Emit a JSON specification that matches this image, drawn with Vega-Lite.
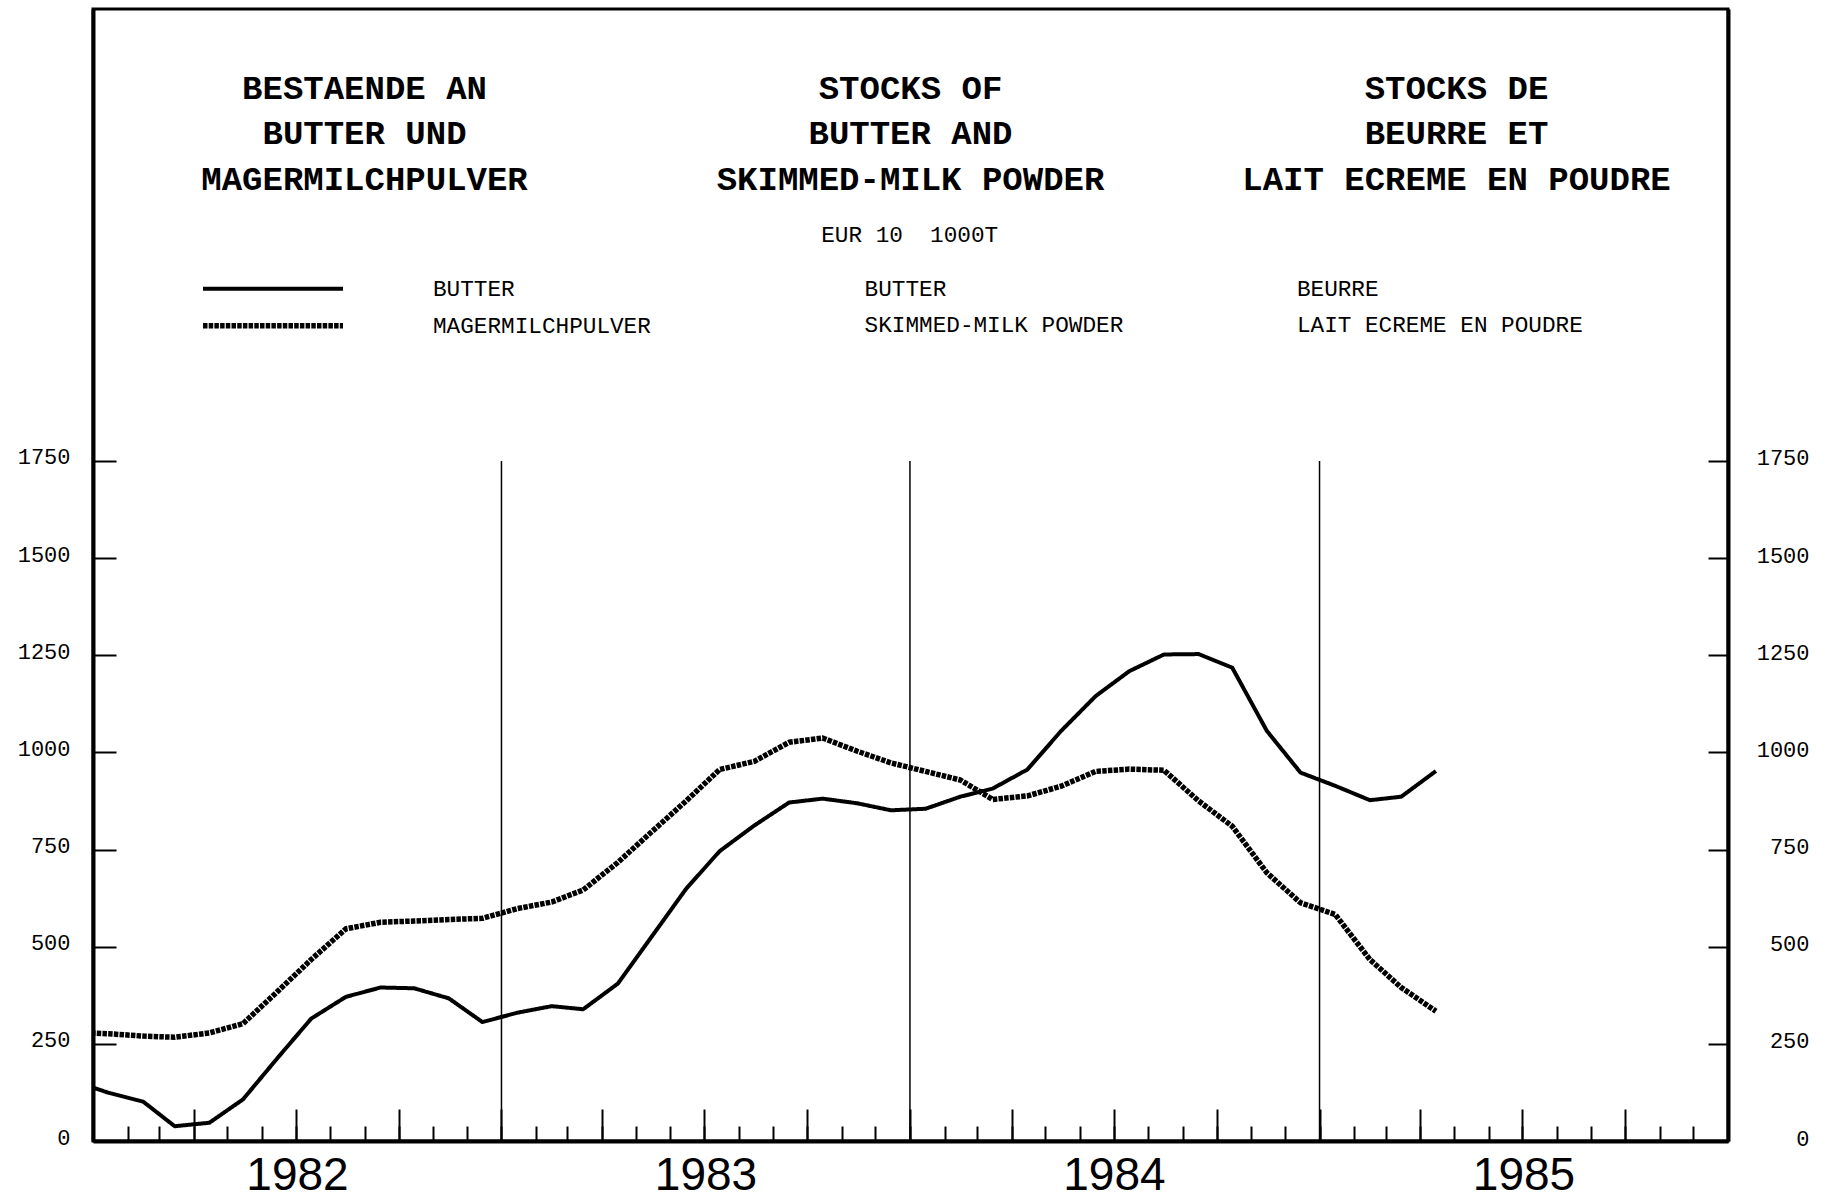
{
  "$schema": "https://vega.github.io/schema/vega-lite/v6.json",
  "width": 1635,
  "height": 1132,
  "autosize": {"type": "none"},
  "padding": {"left": 93, "top": 9, "right": 104, "bottom": 59},
  "background": "white",
  "config": {
    "view": {"stroke": "black", "strokeWidth": 3},
    "font": "Liberation Mono",
    "axis": {"domainColor": "black", "tickColor": "black", "labelColor": "black", "grid": false, "title": null}
  },
  "datasets": {
    "stocks": [
      {"month": "1981-12-15", "series": "BUTTER", "value": 154},
      {"month": "1982-01-15", "series": "BUTTER", "value": 124},
      {"month": "1982-02-15", "series": "BUTTER", "value": 101},
      {"month": "1982-03-15", "series": "BUTTER", "value": 38},
      {"month": "1982-04-15", "series": "BUTTER", "value": 47},
      {"month": "1982-05-15", "series": "BUTTER", "value": 107},
      {"month": "1982-06-15", "series": "BUTTER", "value": 214},
      {"month": "1982-07-15", "series": "BUTTER", "value": 315},
      {"month": "1982-08-15", "series": "BUTTER", "value": 371},
      {"month": "1982-09-15", "series": "BUTTER", "value": 395},
      {"month": "1982-10-15", "series": "BUTTER", "value": 393},
      {"month": "1982-11-15", "series": "BUTTER", "value": 367},
      {"month": "1982-12-15", "series": "BUTTER", "value": 306},
      {"month": "1983-01-15", "series": "BUTTER", "value": 330},
      {"month": "1983-02-15", "series": "BUTTER", "value": 347},
      {"month": "1983-03-15", "series": "BUTTER", "value": 339},
      {"month": "1983-04-15", "series": "BUTTER", "value": 405},
      {"month": "1983-05-15", "series": "BUTTER", "value": 525},
      {"month": "1983-06-15", "series": "BUTTER", "value": 649},
      {"month": "1983-07-15", "series": "BUTTER", "value": 746},
      {"month": "1983-08-15", "series": "BUTTER", "value": 812},
      {"month": "1983-09-15", "series": "BUTTER", "value": 871},
      {"month": "1983-10-15", "series": "BUTTER", "value": 881},
      {"month": "1983-11-15", "series": "BUTTER", "value": 869},
      {"month": "1983-12-15", "series": "BUTTER", "value": 851},
      {"month": "1984-01-15", "series": "BUTTER", "value": 855},
      {"month": "1984-02-15", "series": "BUTTER", "value": 886},
      {"month": "1984-03-15", "series": "BUTTER", "value": 907},
      {"month": "1984-04-15", "series": "BUTTER", "value": 956},
      {"month": "1984-05-15", "series": "BUTTER", "value": 1055},
      {"month": "1984-06-15", "series": "BUTTER", "value": 1145},
      {"month": "1984-07-15", "series": "BUTTER", "value": 1209},
      {"month": "1984-08-15", "series": "BUTTER", "value": 1252},
      {"month": "1984-09-15", "series": "BUTTER", "value": 1253},
      {"month": "1984-10-15", "series": "BUTTER", "value": 1218},
      {"month": "1984-11-15", "series": "BUTTER", "value": 1055},
      {"month": "1984-12-15", "series": "BUTTER", "value": 948},
      {"month": "1985-01-15", "series": "BUTTER", "value": 914},
      {"month": "1985-02-15", "series": "BUTTER", "value": 877},
      {"month": "1985-03-15", "series": "BUTTER", "value": 886},
      {"month": "1985-04-15", "series": "BUTTER", "value": 952},
      {"month": "1981-12-15", "series": "MAGERMILCHPULVER", "value": 280},
      {"month": "1982-01-15", "series": "MAGERMILCHPULVER", "value": 276},
      {"month": "1982-02-15", "series": "MAGERMILCHPULVER", "value": 270},
      {"month": "1982-03-15", "series": "MAGERMILCHPULVER", "value": 267},
      {"month": "1982-04-15", "series": "MAGERMILCHPULVER", "value": 278},
      {"month": "1982-05-15", "series": "MAGERMILCHPULVER", "value": 302},
      {"month": "1982-06-15", "series": "MAGERMILCHPULVER", "value": 385},
      {"month": "1982-07-15", "series": "MAGERMILCHPULVER", "value": 467},
      {"month": "1982-08-15", "series": "MAGERMILCHPULVER", "value": 546},
      {"month": "1982-09-15", "series": "MAGERMILCHPULVER", "value": 563},
      {"month": "1982-10-15", "series": "MAGERMILCHPULVER", "value": 566},
      {"month": "1982-11-15", "series": "MAGERMILCHPULVER", "value": 570},
      {"month": "1982-12-15", "series": "MAGERMILCHPULVER", "value": 573},
      {"month": "1983-01-15", "series": "MAGERMILCHPULVER", "value": 598},
      {"month": "1983-02-15", "series": "MAGERMILCHPULVER", "value": 615},
      {"month": "1983-03-15", "series": "MAGERMILCHPULVER", "value": 646},
      {"month": "1983-04-15", "series": "MAGERMILCHPULVER", "value": 717},
      {"month": "1983-05-15", "series": "MAGERMILCHPULVER", "value": 795},
      {"month": "1983-06-15", "series": "MAGERMILCHPULVER", "value": 875},
      {"month": "1983-07-15", "series": "MAGERMILCHPULVER", "value": 956},
      {"month": "1983-08-15", "series": "MAGERMILCHPULVER", "value": 977},
      {"month": "1983-09-15", "series": "MAGERMILCHPULVER", "value": 1026},
      {"month": "1983-10-15", "series": "MAGERMILCHPULVER", "value": 1037},
      {"month": "1983-11-15", "series": "MAGERMILCHPULVER", "value": 1003},
      {"month": "1983-12-15", "series": "MAGERMILCHPULVER", "value": 973},
      {"month": "1984-01-15", "series": "MAGERMILCHPULVER", "value": 951},
      {"month": "1984-02-15", "series": "MAGERMILCHPULVER", "value": 929},
      {"month": "1984-03-15", "series": "MAGERMILCHPULVER", "value": 879},
      {"month": "1984-04-15", "series": "MAGERMILCHPULVER", "value": 888},
      {"month": "1984-05-15", "series": "MAGERMILCHPULVER", "value": 913},
      {"month": "1984-06-15", "series": "MAGERMILCHPULVER", "value": 951},
      {"month": "1984-07-15", "series": "MAGERMILCHPULVER", "value": 957},
      {"month": "1984-08-15", "series": "MAGERMILCHPULVER", "value": 954},
      {"month": "1984-09-15", "series": "MAGERMILCHPULVER", "value": 875},
      {"month": "1984-10-15", "series": "MAGERMILCHPULVER", "value": 810},
      {"month": "1984-11-15", "series": "MAGERMILCHPULVER", "value": 690},
      {"month": "1984-12-15", "series": "MAGERMILCHPULVER", "value": 613},
      {"month": "1985-01-15", "series": "MAGERMILCHPULVER", "value": 583},
      {"month": "1985-02-15", "series": "MAGERMILCHPULVER", "value": 467},
      {"month": "1985-03-15", "series": "MAGERMILCHPULVER", "value": 395},
      {"month": "1985-04-15", "series": "MAGERMILCHPULVER", "value": 334}
    ],
    "boundaries": [
      {"year_start": "1983-01-01"},
      {"year_start": "1984-01-01"},
      {"year_start": "1985-01-01"}
    ],
    "titles": [
      {"lang": "DE", "line": 1, "text": "BESTAENDE AN"},
      {"lang": "DE", "line": 2, "text": "BUTTER UND"},
      {"lang": "DE", "line": 3, "text": "MAGERMILCHPULVER"},
      {"lang": "EN", "line": 1, "text": "STOCKS OF"},
      {"lang": "EN", "line": 2, "text": "BUTTER AND"},
      {"lang": "EN", "line": 3, "text": "SKIMMED-MILK POWDER"},
      {"lang": "FR", "line": 1, "text": "STOCKS DE"},
      {"lang": "FR", "line": 2, "text": "BEURRE ET"},
      {"lang": "FR", "line": 3, "text": "LAIT ECREME EN POUDRE"}
    ],
    "units": [
      {"slot": "unit", "text": "EUR 10\u00a0\u00a01000T"}
    ],
    "legendtext": [
      {"lang": "EN", "row": 1, "series": "BUTTER", "text": "BUTTER"},
      {"lang": "EN", "row": 2, "series": "MAGERMILCHPULVER", "text": "SKIMMED-MILK POWDER"},
      {"lang": "FR", "row": 1, "series": "BUTTER", "text": "BEURRE"},
      {"lang": "FR", "row": 2, "series": "MAGERMILCHPULVER", "text": "LAIT ECREME EN POUDRE"}
    ]
  },
  "resolve": {"scale": {"x": "independent", "y": "independent"}},
  "layer": [
    {
      "data": {"name": "stocks"},
      "mark": {"type": "line", "clip": true, "color": "black", "strokeJoin": "round"},
      "encoding": {
        "x": {
          "field": "month", "type": "temporal",
          "scale": {"type": "utc", "nice": false, "domain": [{"year": 1982, "month": 1, "date": 1, "utc": true}, {"year": 1986, "month": 1, "date": 1, "utc": true}]},
          "axis": {"orient": "bottom", "labels": false, "tickCount": {"interval": "month", "step": 1}, "tickSize": -15, "tickWidth": 2, "domainWidth": 4}
        },
        "y": {
          "field": "value", "type": "quantitative",
          "scale": {"domain": [0, 2913], "nice": false, "zero": true},
          "axis": {"orient": "left", "values": [0, 250, 500, 750, 1000, 1250, 1500, 1750], "format": "d", "tickSize": -23, "tickWidth": 2, "domainWidth": 4, "labelPadding": 46, "labelFont": "Liberation Mono", "labelFontSize": 22, "labelOffset": -4, "labelBaseline": "middle"}
        },
        "strokeDash": {
          "field": "series", "type": "nominal",
          "scale": {"domain": ["BUTTER", "MAGERMILCHPULVER"], "range": [[1, 0], [4.5, 1.2]]},
          "legend": {
            "orient": "none", "legendX": 107, "legendY": 261.5, "title": null, "padding": 0,
            "symbolType": "stroke", "symbolSize": 19600, "symbolStrokeWidth": 5.5, "symbolStrokeColor": "black",
            "clipHeight": 36.3, "rowPadding": 0, "labelOffset": 87, "labelLimit": 0,
            "labelFont": "Liberation Mono", "labelFontSize": 22.7, "labelColor": "black"
          }
        },
        "strokeWidth": {
          "field": "series", "type": "nominal",
          "scale": {"domain": ["BUTTER", "MAGERMILCHPULVER"], "range": [4, 5.5]},
          "legend": null
        }
      }
    },
    {
      "data": {"name": "boundaries"},
      "mark": {"type": "rule", "strokeWidth": 1.5, "color": "black"},
      "encoding": {
        "x": {
          "field": "year_start", "type": "temporal",
          "scale": {"type": "utc", "nice": false, "domain": [{"year": 1982, "month": 1, "date": 1, "utc": true}, {"year": 1986, "month": 1, "date": 1, "utc": true}]},
          "axis": {
            "orient": "bottom", "domain": false, "tickCount": {"interval": "month", "step": 3}, "tickSize": -32, "tickWidth": 2,
            "labelExpr": "utcmonth(datum.value) == 0 && utcyear(datum.value) < 1986 ? utcFormat(datum.value, '%Y') : ''",
            "labelOffset": 204, "labelPadding": 80, "labelBaseline": "alphabetic", "labelAlign": "center",
            "labelFont": "Liberation Sans", "labelFontSize": 46, "labelOverlap": false, "labelFlush": false, "labelBound": false
          }
        },
        "y": {
          "datum": 0, "type": "quantitative",
          "scale": {"domain": [0, 2913], "nice": false, "zero": true},
          "axis": {"orient": "right", "values": [0, 250, 500, 750, 1000, 1250, 1500, 1750], "format": "d", "tickSize": -20, "tickWidth": 2, "domainWidth": 4, "labelPadding": 101, "labelAlign": "right", "labelFont": "Liberation Mono", "labelFontSize": 22, "labelOffset": -3, "labelBaseline": "middle"}
        },
        "y2": {"datum": 1750}
      }
    },
    {
      "data": {"name": "titles"},
      "mark": {"type": "text", "font": "Liberation Mono", "fontSize": 34, "fontWeight": "bold", "align": "center", "baseline": "middle", "color": "black"},
      "encoding": {
        "x": {"field": "lang", "type": "nominal", "scale": {"type": "point", "domain": ["DE", "EN", "FR"], "padding": 0.4973, "align": 0.5}, "axis": null},
        "y": {"field": "line", "type": "quantitative", "scale": {"domain": [-0.7456, 24.079], "nice": false, "zero": false, "reverse": true}, "axis": null},
        "text": {"field": "text"}
      }
    },
    {
      "data": {"name": "units"},
      "mark": {"type": "text", "font": "Liberation Mono", "fontSize": 22.7, "align": "center", "baseline": "middle", "color": "black"},
      "encoding": {
        "x": {"field": "slot", "type": "nominal", "scale": {"type": "point", "domain": ["unit"], "padding": 0.5, "align": 0.4995}, "axis": null},
        "y": {"field": "slot", "type": "nominal", "scale": {"type": "point", "domain": ["unit"], "padding": 0.5, "align": 0.1996}, "axis": null},
        "text": {"field": "text"}
      }
    },
    {
      "data": {"name": "legendtext"},
      "mark": {"type": "text", "font": "Liberation Mono", "fontSize": 22.7, "align": "left", "baseline": "middle", "color": "black"},
      "encoding": {
        "x": {"field": "lang", "type": "nominal", "scale": {"type": "point", "domain": ["DE", "EN", "FR"], "padding": 0.891, "align": 0.4404}, "axis": null},
        "y": {"field": "row", "type": "quantitative", "scale": {"domain": [-6.7025, 24.482], "nice": false, "zero": false, "reverse": true}, "axis": null},
        "text": {"field": "text"}
      }
    }
  ]
}
